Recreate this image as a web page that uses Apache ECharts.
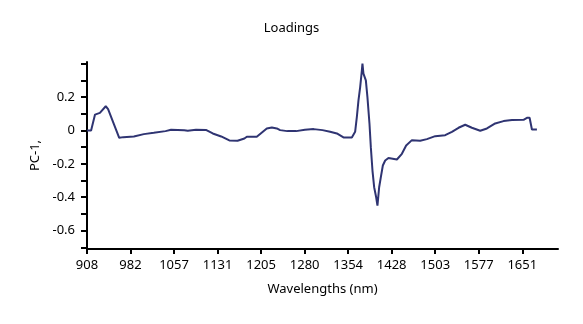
<!DOCTYPE html>
<html>
<head>
<meta charset="utf-8">
<script src="https://cdn.jsdelivr.net/npm/echarts@6/dist/echarts.min.js"></script>
<style>
  html, body { margin: 0; padding: 0; background: #fff; }
  #chart { width: 583px; height: 324px; }
</style>
</head>
<body>
<div id="chart"></div>
<script>
// PC-1 loadings across the NIR wavelength range
const wavelengths = [
  908, 915, 921.7, 930, 940, 944, 963, 970, 988, 1005, 1022, 1042,
  1051.5, 1074, 1080, 1094, 1111, 1122.7, 1137, 1151, 1165, 1176.7, 1180.8,
  1197.8, 1214.9, 1223.5, 1232, 1237.6, 1250, 1265, 1280, 1295, 1310, 1323,
  1334.5, 1345.8, 1360.1, 1365.7, 1368.6, 1371.4, 1374.3, 1377.2, 1378.2,
  1379.9, 1384, 1386.7, 1390.2, 1392.5, 1395.3, 1398.2, 1401.6, 1403.8,
  1406.7, 1409.6, 1413, 1417, 1422.6, 1437, 1445.5, 1452.8, 1462.6, 1476.7,
  1488.2, 1502.4, 1519.4, 1530.9, 1542.2, 1553.6, 1565, 1579.2, 1590.7,
  1604.8, 1619, 1633.4, 1653.2, 1659, 1663.5, 1667.5, 1676
];
const loadings = [
  0, 0, 0.095, 0.105, 0.145, 0.128, -0.044, -0.04, -0.036, -0.022, -0.014, -0.004,
  0.004, 0.001, -0.002, 0.004, 0.003, -0.018, -0.036, -0.06, -0.062, -0.048, -0.038,
  -0.038, 0.012, 0.018, 0.012, 0.002, -0.004, -0.004, 0.004, 0.008, 0.002, -0.008,
  -0.018, -0.042, -0.042, -0.008, 0.08, 0.18, 0.26, 0.36, 0.40,
  0.34, 0.30, 0.2, 0.04, -0.1, -0.24, -0.34, -0.40, -0.45,
  -0.34, -0.28, -0.21, -0.18, -0.165, -0.174, -0.14, -0.09, -0.058, -0.062,
  -0.052, -0.034, -0.028, -0.008, 0.016, 0.034, 0.016, -0.002, 0.012,
  0.042, 0.056, 0.062, 0.064, 0.076, 0.076, 0.006, 0.006
];

// Axis tick labels
const xTickLabels = ['908', '982', '1057', '1131', '1205', '1280', '1354', '1428', '1503', '1577', '1651'];
const yTickLabels = ['-0.6', '-0.4', '-0.2', '0', '0.2'];
const yTickValues = [-0.6, -0.4, -0.2, 0, 0.2];
const yMinorTicks = [-0.7, -0.6, -0.5, -0.4, -0.3, -0.2, -0.1, 0, 0.1, 0.2, 0.3, 0.4];

const xFirst = Number(xTickLabels[0]);
const xLast = Number(xTickLabels[xTickLabels.length - 1]);
const xStep = (xLast - xFirst) / (xTickLabels.length - 1);
const xTickValues = xTickLabels.map((_, i) => xFirst + i * xStep);

const FONT = '"Noto Sans", "DejaVu Sans", sans-serif';
const TEXT_COLOR = '#000';

const chart = echarts.init(document.getElementById('chart'), null, { renderer: 'canvas' });

chart.setOption({
  animation: false,
  backgroundColor: '#fff',
  title: {
    text: 'Loadings',
    left: 'center',
    top: 17,
    textStyle: { fontFamily: FONT, fontSize: 13, fontWeight: 'normal', color: TEXT_COLOR }
  },
  grid: { left: 87, right: 25, top: 62, bottom: 75, containLabel: false },
  xAxis: {
    type: 'value',
    min: 908,
    max: 1712,
    name: 'Wavelengths (nm)',
    nameLocation: 'middle',
    nameGap: 34,
    nameTextStyle: { fontFamily: FONT, fontSize: 13, color: TEXT_COLOR },
    splitLine: { show: false },
    axisLine: { show: true, onZero: false, lineStyle: { color: '#000', width: 2 } },
    axisTick: { show: true, length: 5, customValues: xTickValues, lineStyle: { color: '#000', width: 2 } },
    axisLabel: {
      customValues: xTickValues,
      margin: 10,
      fontFamily: FONT, fontSize: 13, color: TEXT_COLOR,
      formatter: (v) => {
        const i = Math.round((v - xFirst) / xStep);
        return xTickLabels[i] !== undefined ? xTickLabels[i] : '';
      }
    }
  },
  yAxis: {
    type: 'value',
    min: -0.71,
    max: 0.41,
    name: 'PC-1,',
    nameLocation: 'middle',
    nameGap: 44,
    nameTextStyle: { fontFamily: FONT, fontSize: 13, color: TEXT_COLOR },
    splitLine: { show: false },
    axisLine: { show: true, onZero: false, lineStyle: { color: '#000', width: 2 } },
    axisTick: { show: true, length: 6, customValues: yMinorTicks, lineStyle: { color: '#000', width: 2 } },
    axisLabel: {
      customValues: yTickValues,
      margin: 12,
      fontFamily: FONT, fontSize: 13, color: TEXT_COLOR,
      formatter: (v) => {
        const i = yTickValues.findIndex(t => Math.abs(t - v) < 1e-6);
        return i >= 0 ? yTickLabels[i] : '';
      }
    }
  },
  series: [{
    type: 'line',
    data: wavelengths.map((w, i) => [w, loadings[i]]),
    showSymbol: false,
    smooth: false,
    lineStyle: { color: '#2f3472', width: 2 },
    itemStyle: { color: '#2f3472' }
  }]
});
</script>
</body>
</html>
